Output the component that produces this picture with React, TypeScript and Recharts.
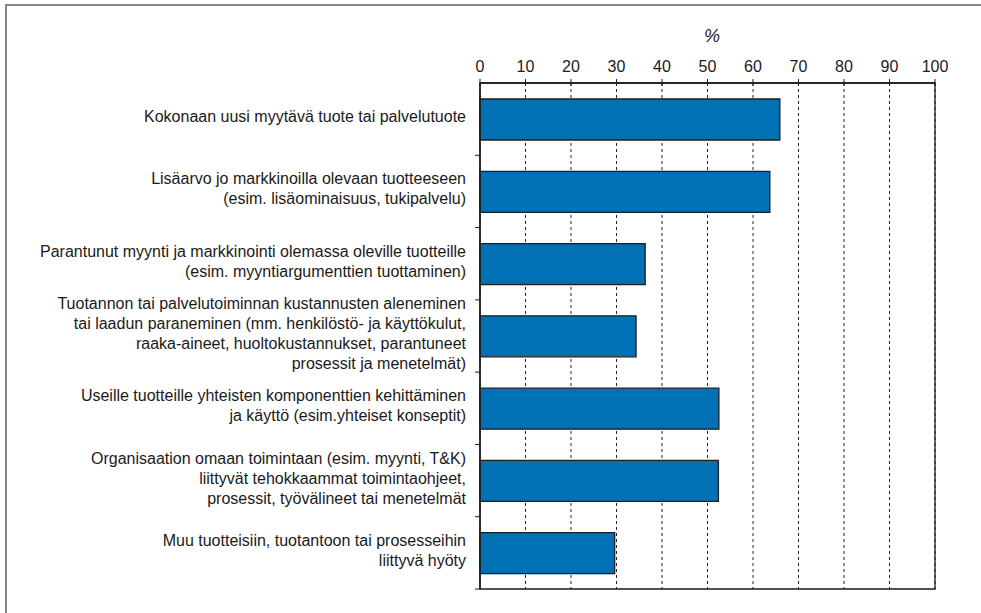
import React from 'react';
import { BarChart, Bar, XAxis, YAxis, CartesianGrid, ReferenceArea } from 'recharts';

// Benefit categories (lines of each label split with "\n")
const categories = [
  'Kokonaan uusi myytävä tuote tai palvelutuote',
  'Lisäarvo jo markkinoilla olevaan tuotteeseen\n(esim. lisäominaisuus, tukipalvelu)',
  'Parantunut myynti ja markkinointi olemassa oleville tuotteille\n(esim. myyntiargumenttien tuottaminen)',
  'Tuotannon tai palvelutoiminnan kustannusten aleneminen\ntai laadun paraneminen (mm. henkilöstö- ja käyttökulut,\nraaka-aineet, huoltokustannukset, parantuneet\nprosessit ja menetelmät)',
  'Useille tuotteille yhteisten komponenttien kehittäminen\nja käyttö (esim.yhteiset konseptit)',
  'Organisaation omaan toimintaan (esim. myynti, T&K)\nliittyvät tehokkaammat toimintaohjeet,\nprosessit, työvälineet tai menetelmät',
  'Muu tuotteisiin, tuotantoon tai prosesseihin\nliittyvä hyöty',
];

const shares = [65.9, 63.7, 36.3, 34.3, 52.5, 52.4, 29.6];

const xTicks = [0, 10, 20, 30, 40, 50, 60, 70, 80, 90, 100];

const data = categories.map((label, i) => ({ label, value: shares[i] }));

const W = 981;
const H = 613;
const PLOT_LEFT = 480;
const PLOT_TOP = 83;
const PLOT_BOTTOM = 589;
const BAND = (PLOT_BOTTOM - PLOT_TOP) / categories.length;
const FONT = '"Liberation Sans", Arial, Helvetica, sans-serif';
const INK = '#1a1a1a';

const TopTick = (props: any) => {
  const { x, payload } = props;
  return (
    <g>
      <line x1={x} x2={x} y1={PLOT_TOP - 4} y2={PLOT_TOP + 3} stroke={INK} strokeWidth={1} />
      <text x={x} y={PLOT_TOP - 11} textAnchor="middle" fontSize={16} fontFamily={FONT} fill={INK}>
        {payload.value}
      </text>
    </g>
  );
};

const LeftTick = (props: any) => {
  const { y, payload } = props;
  const lines = String(payload.value).split('\n');
  const first = y - ((lines.length - 1) * 20) / 2 + 3;
  return (
    <g>
      <line x1={PLOT_LEFT - 5} x2={PLOT_LEFT} y1={y + BAND / 2} y2={y + BAND / 2} stroke={INK} strokeWidth={1} />
      <text textAnchor="end" fontSize={16} fontFamily={FONT} fill={INK}>
        {lines.map((l, i) => (
          <tspan key={i} x={PLOT_LEFT - 14} y={first + i * 20}>
            {l}
          </tspan>
        ))}
      </text>
    </g>
  );
};

export default function App() {
  return (
    <div style={{ position: 'absolute', left: 0, top: 0, width: W, height: H, background: '#fff' }}>
      <div
        style={{
          position: 'absolute',
          left: 5,
          top: 4,
          width: W - 5,
          height: H - 4,
          borderTop: '2px solid #858585',
          borderLeft: '2px solid #858585',
          boxSizing: 'border-box',
        }}
      />
      <div style={{ position: 'absolute', left: 0, top: 0 }}>
        <BarChart
          width={W}
          height={H}
          data={data}
          layout="vertical"
          margin={{ top: 33, right: 46, bottom: 24, left: 0 }}
        >
          <CartesianGrid horizontal={false} strokeDasharray="3 3" stroke="#222" />
          <XAxis
            type="number"
            orientation="top"
            domain={[0, 100]}
            ticks={xTicks}
            height={50}
            tickLine={false}
            axisLine={{ stroke: INK, strokeWidth: 1.3 }}
            tick={<TopTick />}
            interval={0}
          />
          <YAxis
            type="category"
            dataKey="label"
            width={PLOT_LEFT}
            tickLine={false}
            axisLine={{ stroke: INK, strokeWidth: 1.3 }}
            tick={<LeftTick />}
            interval={0}
          />
          <ReferenceArea x1={0} x2={100} fill="none" stroke={INK} strokeWidth={1.3} />
          <Bar
            dataKey="value"
            barSize={41}
            fill="#0071b5"
            stroke="#1e1e1e"
            strokeWidth={1.3}
            isAnimationActive={false}
          />
        </BarChart>
      </div>
      <div
        style={{
          position: 'absolute',
          left: 712,
          top: 26,
          transform: 'translateX(-50%)',
          fontFamily: FONT,
          fontStyle: 'italic',
          fontSize: 18,
          color: INK,
        }}
      >
        %
      </div>
    </div>
  );
}
